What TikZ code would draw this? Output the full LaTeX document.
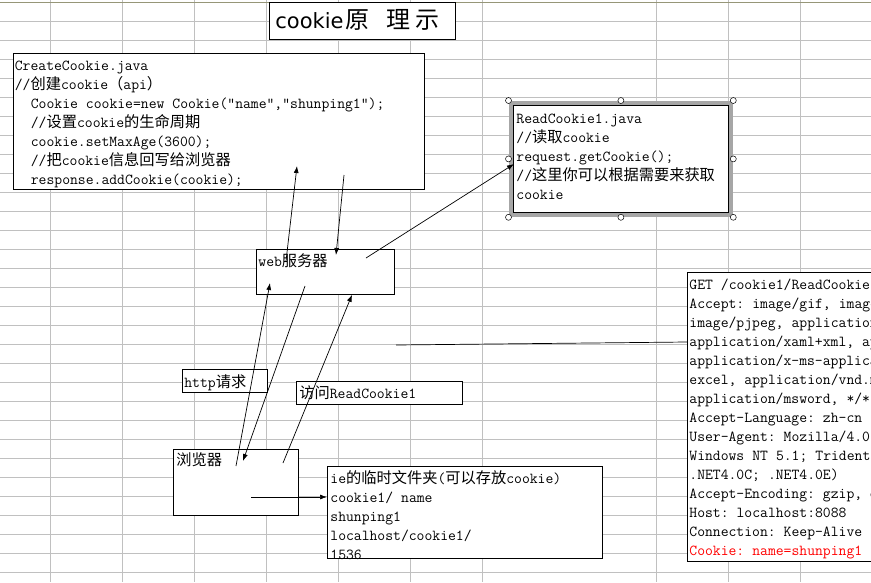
\documentclass[tikz,border=0pt]{standalone}
\usepackage{fontspec}
\usepackage{tikz}
\usetikzlibrary{arrows.meta,fit}
\newfontfamily\cjk{Noto Sans CJK SC}
\newfontfamily\titlefont{DejaVu Sans}
\newcommand\zh[1]{{\cjk #1}}
\newcommand\ind{\hspace*{16pt}}
\newcommand\fixspace{\spaceskip=8pt\relax\xspaceskip=8pt\relax}
\definecolor{gridgray}{RGB}{192,192,192}
\definecolor{headline}{RGB}{150,150,120}

\begin{document}
\begin{tikzpicture}[x=1pt,y=-1pt,
  box/.style={draw,line width=0.8pt,fill=white,anchor=north west,inner ysep=0pt,inner xsep=2pt,
    align=left,font=\ttfamily\fontsize{15.24}{19}\selectfont,execute at begin node=\fixspace},
  arr/.style={line width=0.7pt,-{Latex[length=7pt,width=5pt]}},
  gridline/.style={gridgray,line width=0.8pt},
  handle/.style={draw,fill=white,line width=0.5pt}]
\useasboundingbox (0,0) rectangle (871,582);
\clip (0,0) rectangle (871,582);
\fill[white] (0,0) rectangle (871,582);
% sheet grid
\foreach \x in {50,122,194,266,338,410,482,656,728,800}
  \draw[gridline] (\x,0) -- (\x,582);
\foreach \i in {1,...,30}
  \draw[gridline] (0,2+19.02*\i) -- (871,2+19.02*\i);
\draw[headline] (0,2) -- (871,2);

% boxes
\path (269,2) node[box,inner xsep=6pt,text width=174pt,text height=26pt,text depth=11pt,
  font=\titlefont\fontsize{21}{24}\selectfont] (title)
  {cookie{\cjk\fontsize{24}{26}\selectfont\hspace{2pt}原\hspace{17pt}理\hspace{5pt}示}};
\path (13,53) node[box,inner xsep=1.5pt,text width=408pt,text height=17pt,text depth=119pt] (create)
  {CreateCookie.java\\
   //\zh{创建}cookie\zh{（}api\zh{）}\\
   \ind Cookie cookie=new Cookie("name","shunping1");\\
   \ind //\zh{设置}cookie\zh{的生命周期}\\
   \ind cookie.setMaxAge(3600);\\
   \ind //\zh{把}cookie\zh{信息回写给浏览器}\\
   \ind response.addCookie(cookie);};
\path (513,105) node[box,inner xsep=3pt,text width=209pt,text height=18pt,text depth=89pt] (read)
  {ReadCookie1.java\\
   //\zh{读取}cookie\\
   request.getCookie();\\
   //\zh{这里你可以根据需要来获取}\\
   cookie};
\node[fit=(read),inner sep=2.5pt,draw=black!35,line width=4pt] (readsel) {};
\foreach \a in {north west,north,north east,west,east,south west,south,south east}
  \draw[handle] (readsel.\a) circle (3pt);
\path (256,249) node[box,text width=134pt,text height=17pt,text depth=28pt] (web) {web\zh{服务器}};
\path (173,449) node[box,inner xsep=3pt,text width=119pt,text height=16pt,text depth=50pt] (browser) {\zh{浏览器}};
\path (182,369) node[box,text width=81pt,text height=18pt,text depth=5pt] (req) {http\zh{请求}};
\path (296,381) node[box,inner xsep=3pt,text width=160pt,text height=17pt,text depth=6pt] (visit) {\zh{访问}ReadCookie1};
\path (327,466) node[box,inner xsep=3pt,text width=269pt,text height=17pt,text depth=75pt] (iefolder)
  {ie\zh{的临时文件夹}(\zh{可以存放}cookie)\\
   cookie1/ name\\
   shunping1\\
   localhost/cookie1/\\
   1536};
\path (687,272) node[box,text width=400pt,text height=17pt,text depth=272pt] (httpreq)
  {GET /cookie1/ReadCookie1 HTTP/1.1\\
   Accept: image/gif, image/jpeg,\\
   image/pjpeg, application/x-shockwave-flash,\\
   application/xaml+xml, application/vnd.ms-\\
   application/x-ms-application,\\
   excel, application/vnd.ms-powerpoint,\\
   application/msword, */*\\
   Accept-Language: zh-cn\\
   User-Agent: Mozilla/4.0 (compatible; MSIE 8.0;\\
   Windows NT 5.1; Trident/4.0;\\
   .NET4.0C; .NET4.0E)\\
   Accept-Encoding: gzip, deflate\\
   Host: localhost:8088\\
   Connection: Keep-Alive\\
   \textcolor{red}{Cookie: name=shunping1}};

% arrows
\draw[arr] ([shift={(63,17)}]browser.north west) -- ([shift={(14,34)}]web.north west);
\draw[arr] ([shift={(30,12)}]web.north west) -- ([shift={(284,113)}]create.north west);
\draw[arr] ([shift={(331,122)}]create.north west) -- ([shift={(80,6)}]web.north west);
\draw[arr] ([shift={(110,9)}]web.north west) -- ([shift={(1,59)}]read.north west);
\draw[arr] ([shift={(49,37)}]web.north west) -- ([shift={(70,12)}]browser.north west);
\draw[arr] ([shift={(110,14)}]browser.north west) -- ([shift={(96,0)}]web.south west);
\draw[arr] ([shift={(78,48)}]browser.north west) -- ([shift={(0,31)}]iefolder.north west);
\coordinate (lineStart) at (396,345);
\draw[line width=0.7pt] (lineStart) -- ([shift={(0,70)}]httpreq.north west);
\end{tikzpicture}
\end{document}
